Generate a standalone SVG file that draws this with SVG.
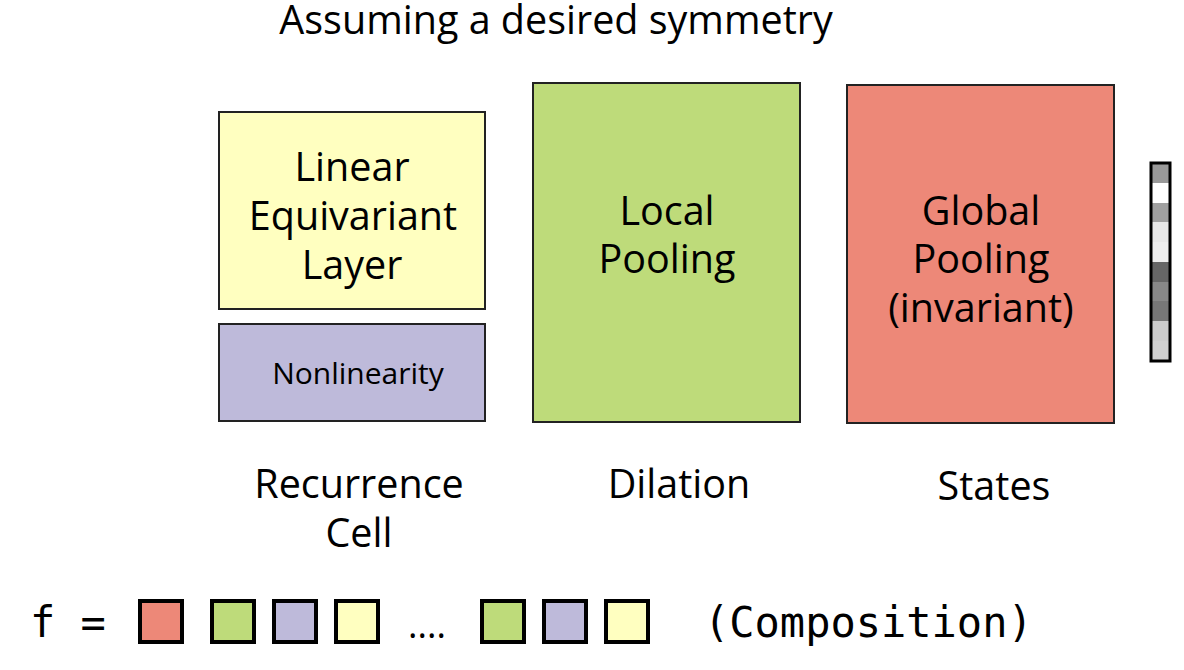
<svg xmlns="http://www.w3.org/2000/svg" width="1184" height="670" viewBox="0 0 1184 670">
<style>
.t{font-family:"Open Sans","Noto Sans","DejaVu Sans",sans-serif;fill:#000;text-anchor:middle}
.big{font-size:39.5px}
.mono{font-family:"DejaVu Sans Mono","Liberation Mono",monospace;font-size:42px;fill:#000}
.box{stroke:#222;stroke-width:2}
.sq{stroke:#000;stroke-width:4}
.y{fill:#ffffc0}.p{fill:#bebada}.g{fill:#bedb7a}.r{fill:#ed8878}
</style>
<rect width="1184" height="670" fill="#fff"/>
<text class="t big" x="556" y="34">Assuming a desired symmetry</text>
<g id="linear">
<rect class="box y" x="219" y="112" width="266" height="197"/>
<text class="t big" x="352" y="181">Linear</text>
<text class="t big" x="353" y="230">Equivariant</text>
<text class="t big" x="352" y="279">Layer</text>
</g>
<g id="nonlinearity">
<rect class="box p" x="219" y="324" width="266" height="97"/>
<text class="t" style="font-size:30px" x="358" y="384">Nonlinearity</text>
</g>
<g id="local">
<rect class="box g" x="533" y="83" width="267" height="339"/>
<text class="t big" x="667" y="225">Local</text>
<text class="t big" x="667" y="273">Pooling</text>
</g>
<g id="global">
<rect class="box r" x="847" y="85" width="267" height="338"/>
<text class="t big" x="981" y="225">Global</text>
<text class="t big" x="981" y="273">Pooling</text>
<text class="t big" x="981" y="322">(invariant)</text>
</g>
<g id="states-bar">
<rect x="1151" y="163" width="19" height="20" fill="#999"/>
<rect x="1151" y="183" width="19" height="20" fill="#fff"/>
<rect x="1151" y="203" width="19" height="19" fill="#a0a0a0"/>
<rect x="1151" y="222" width="19" height="20" fill="#e8e8e8"/>
<rect x="1151" y="242" width="19" height="20" fill="#eeeeee"/>
<rect x="1151" y="262" width="19" height="20" fill="#666"/>
<rect x="1151" y="282" width="19" height="19" fill="#888"/>
<rect x="1151" y="301" width="19" height="20" fill="#777"/>
<rect x="1151" y="321" width="19" height="20" fill="#ccc"/>
<rect x="1151" y="341" width="19" height="20" fill="#d0d0d0"/>
<rect x="1151" y="163" width="19" height="198" fill="none" stroke="#000" stroke-width="3"/>
</g>
<g id="labels">
<text class="t big" x="359" y="498">Recurrence</text>
<text class="t big" x="359" y="547">Cell</text>
<text class="t big" x="679" y="498">Dilation</text>
<text class="t big" x="994" y="500">States</text>
</g>
<g id="formula">
<text class="mono" x="30" y="637" xml:space="preserve">f =</text>
<rect class="sq r" x="140" y="601" width="42" height="41"/>
<rect class="sq g" x="212" y="601" width="42" height="41"/>
<rect class="sq p" x="274" y="601" width="42" height="41"/>
<rect class="sq y" x="336" y="601" width="42" height="41"/>
<text class="t" style="font-size:36px" x="427" y="638">....</text>
<rect class="sq g" x="482" y="601" width="42" height="41"/>
<rect class="sq p" x="544" y="601" width="42" height="41"/>
<rect class="sq y" x="606" y="601" width="42" height="41"/>
<text class="mono" x="704" y="637">(Composition)</text>
</g>
<g id="connectors"/>
</svg>
